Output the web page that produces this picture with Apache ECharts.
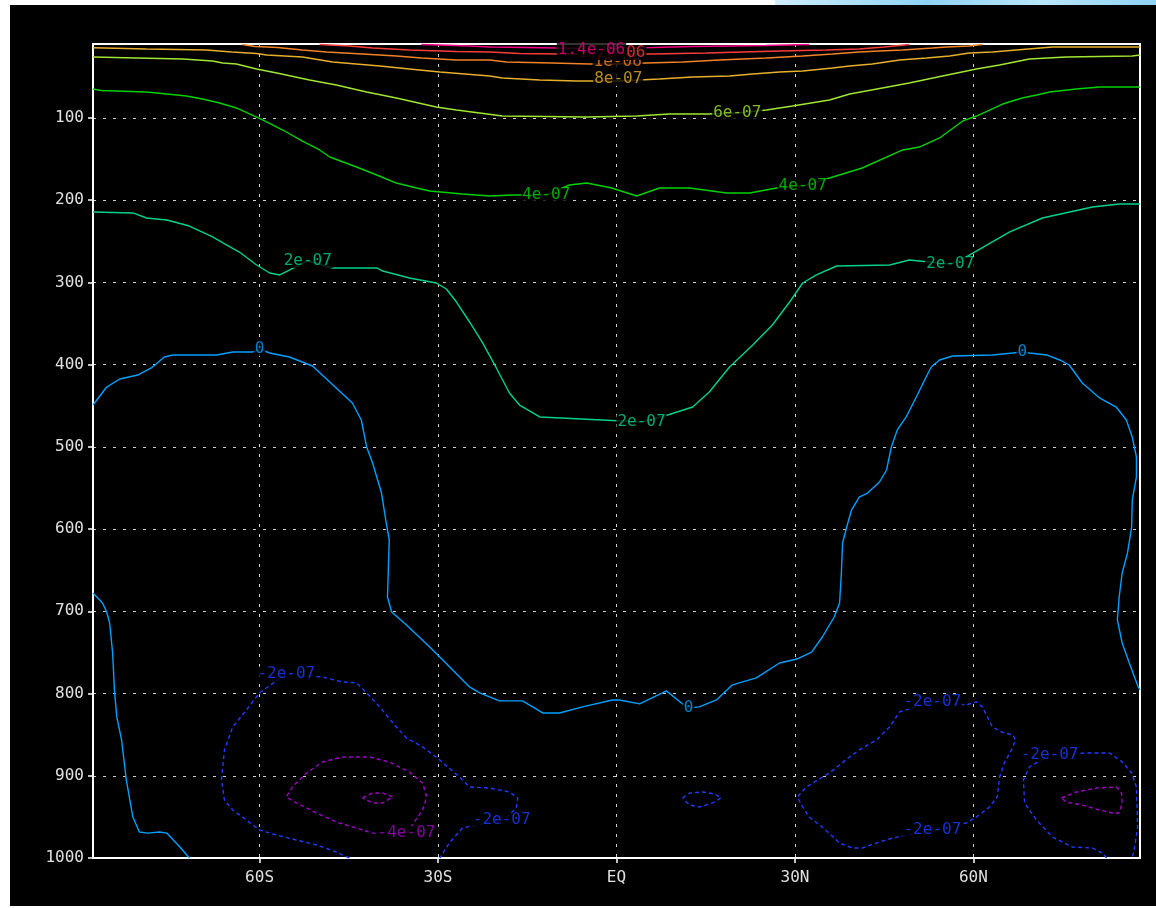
<!DOCTYPE html>
<html><head><meta charset="utf-8">
<script src="https://cdn.jsdelivr.net/npm/echarts@6/dist/echarts.min.js"></script>
<style>html,body{margin:0;padding:0;background:#fff;width:1156px;height:908px;overflow:hidden}
#c{position:absolute;left:10px;top:5px;width:1146px;height:901px;background:#000}
#deco{position:absolute;left:775px;top:0;width:381px;height:5px;background:linear-gradient(90deg,#cfeefc,#8fd3f5 40%,#b9e6fb 70%,#8fd3f5)}</style>
</head><body><div id="deco"></div><div id="c"></div><script>
// axis ticks
const latTicks = [-60, -30, 0, 30, 60];
const latTickLabels = ['60S', '30S', 'EQ', '30N', '60N'];
const presTicks = [100, 200, 300, 400, 500, 600, 700, 800, 900, 1000];

// contour lines: [latitude, pressure hPa]
const c14 = [[-32.8,10.6],[-29.7,11.2],[-24.7,12.4],[-21.3,13.6],[-15.1,14.2],[-10.1,14.9],[-3.4,15.5],[6.1,14.2],[12.8,13.0],[25.2,11.8],[32.4,10.6]];
const c12 = [[-49.9,10.6],[-44.9,12.4],[-41,14.9],[-34.8,17.3],[-26.9,19.1],[-21.3,19.7],[-16.3,21.5],[-10.1,22.2],[-0.8,22.2],[6.1,22.2],[15.1,20.9],[27.4,18.5],[35.3,17.3],[40.8,16.1],[45,13.6],[49.2,10.6]];
const c10 = [[-62.9,10.6],[-60.8,13],[-57,14.2],[-52.8,17.3],[-48.7,19.7],[-42.7,22.2],[-37,24.6],[-32.8,27],[-26.9,29.5],[-21.3,29.5],[-18.5,31.9],[-10.8,33.1],[-4.5,34.3],[0.2,34.3],[5,33.1],[11.1,31.9],[17.3,29.5],[25.2,27],[31.3,24.6],[36.3,22.2],[40.8,19.7],[44.2,18.5],[48.1,17.3],[53.1,14.9],[55.5,13.6],[59.3,12.4],[61.5,10.6]];
const c08 = [[-88,14.5],[-79,16.1],[-68.9,17.3],[-64.7,19.7],[-60.5,21.5],[-58.8,23.4],[-52.8,25.8],[-47.7,31.9],[-39.8,36.8],[-34.8,40.4],[-29.7,44.1],[-21.3,48.9],[-19.2,51.4],[-12.9,53.8],[-6.7,55],[0.3,55],[7.2,52.6],[12.8,50.1],[19,48.9],[22.9,46.5],[27.4,44.1],[31.3,42.8],[36.3,39.2],[39.2,36.8],[43,34.3],[47.6,29.5],[52.1,27],[56,24.6],[59.3,20.9],[63.2,19.7],[67.2,17.3],[73.3,13.6],[88,13.6]];
const c06 = [[-88,25.8],[-80.7,27.0],[-72.9,28.2],[-67.9,30.7],[-66.2,33.1],[-63.9,34.3],[-60.5,40.4],[-57.1,45.3],[-51.6,53.8],[-47.1,59.9],[-42,68.4],[-37,75.7],[-30.3,86.6],[-26.9,90.3],[-23,93.9],[-19.2,97.6],[-5,98.8],[3.4,97.6],[8.9,95.1],[15.6,95.1],[20.3,93.9],[25.2,90.3],[29.6,85.4],[35.8,78.1],[39.2,70.8],[44.7,63.5],[49.2,57.4],[54.8,48.9],[60.5,40.4],[64.4,35.5],[69.4,28.2],[75.6,25.8],[86.7,24.6],[88,23.4]];
const c04 = [[-88,64.7],[-86.7,66.6],[-79,68.4],[-75.6,70.8],[-72.3,73.2],[-69.6,76.9],[-66.7,81.8],[-63.9,87.8],[-61.7,95.1],[-59.5,102.4],[-56.1,114.6],[-52.8,128],[-49.9,138.9],[-48.2,147.4],[-43.7,159.6],[-40.3,169.3],[-37,179.1],[-33.6,185.1],[-31.4,188.8],[-25.9,192.4],[-21.3,194.9],[-17.5,193.6],[-11.8,193.6],[-7.9,181.5],[-5,179.1],[-0.8,185.1],[3.4,194.9],[7.2,185.1],[12.3,185.1],[18.5,191.2],[22.4,191.2],[26.9,185.1],[31.3,182.7],[35.8,173],[41.3,160.8],[48.1,138.9],[50.9,135.3],[54.3,124.3],[58.2,103.6],[60.5,97.6],[62.7,90.3],[64.9,83],[68.2,75.7],[70.6,72],[72.8,68.4],[77.3,64.7],[81.2,62.3],[88,62.3]];
const c02 = [[-88,214.3],[-81.3,215.5],[-79,221.6],[-75.6,224.1],[-71.8,231.4],[-67.9,244.7],[-65.5,254.5],[-63.4,263],[-60.5,278.8],[-58.3,288.5],[-56.6,290.9],[-51.9,273.9],[-47.7,282.4],[-40.3,282.4],[-39.3,286.1],[-34.8,294.6],[-30.3,300.7],[-28.6,308],[-26.9,323.8],[-24.7,348.1],[-22.5,373.6],[-20.2,404],[-18,434.5],[-16.3,449.1],[-12.9,463.6],[-2.4,467.3],[4.2,469.7],[8.6,461.2],[12.8,451.5],[15.6,433.2],[19,402.8],[22.9,376.1],[26.2,351.8],[29.1,323.8],[31.3,300.7],[33.6,290.9],[37,280],[45.9,278.8],[49.2,272.7],[56.1,277.6],[58.8,269],[66.1,238.6],[71.6,221.6],[80,208.2],[84.5,204.6],[88,204.6]];
const c00a = [[-88,449],[-85.7,427.2],[-83.5,417.4],[-80.5,412.6],[-78.2,404],[-76,390.7],[-74.6,388.2],[-67.2,388.2],[-64.5,384.6],[-61.2,384.6],[-60,381],[-58.3,385.8],[-55,390.7],[-51.1,401.6],[-44.4,446.6],[-42.9,467.3],[-42,500.1],[-41,519.6],[-39.5,556.1],[-38.7,592.6],[-38.2,613.2],[-38.5,682.6],[-37.8,700.8],[-35.3,716.6],[-31.4,743.4],[-29.7,755.5],[-24.7,792],[-23,799.1],[-19.7,808.9],[-15.8,808.9],[-12.4,823.6],[-9.6,823.6],[-5.7,816.2],[-0.7,807.8],[0.5,807.8],[3.9,812.6],[8.4,796.7],[10.9,811.4],[12.1,817.5],[13.9,816.2],[16.8,807.8],[19.5,789.4],[23.5,781],[27.4,762.8],[30.3,758],[32.8,749.5],[34.6,731.2],[36.6,706.9],[37.5,689.9],[37.8,653.4],[38,616.9],[38.7,597.4],[39.5,576.8],[40.8,561],[42.2,556.1],[44.2,542.7],[45.4,528.1],[46.2,500.1],[47.2,479.4],[48.7,463.6],[50.4,439.3],[51.8,418.6],[52.9,402.8],[54.3,394.3],[56.5,389.5],[63.2,388.2],[66.6,385.8],[68.2,384.6],[69.4,385.8],[72.3,388.2],[74.5,394.3],[76.1,400.4],[78.3,422.3],[81.2,440.5],[84,451.5],[85.7,467.3],[86.7,488],[87.4,512.3],[87.4,536.6],[86.7,564.6],[86.6,597.4],[85.9,629],[85,653.4],[84.5,682.6],[84.2,710.5],[85,738.5],[86.2,762.8],[87.7,791.9],[88,795.5]];
const c00b = [[-88,677.7],[-86.4,689.9],[-85.7,700.8],[-85.2,714.2],[-84.7,750.7],[-84.4,795.5],[-84,828.4],[-83.2,856.4],[-82.4,905.1],[-81.3,950.2],[-80.2,968.4],[-78.8,969.7],[-76.8,968.4],[-75.6,969.7],[-73.4,986.6],[-71.8,1000]];
const cm2a = [[-44.9,1000],[-47.1,992.7],[-50.4,984.2],[-53.8,978.1],[-57.1,972.1],[-60,966],[-62.2,953.8],[-64.5,941.7],[-65.9,929.5],[-66.4,905.1],[-65.9,868.6],[-64.5,840.6],[-62.2,819.9],[-60,799.1],[-55.5,776],[-49.4,779.9],[-46.1,785.8],[-43.7,787],[-42,799.1],[-39.8,816.2],[-37.6,835.8],[-35.3,854],[-32.6,864.9],[-29.7,880.8],[-26.4,901.5],[-24.7,913.7],[-21.3,914.9],[-18,919.7],[-16.6,927],[-16.8,938],[-18,947.7],[-19.3,953.8],[-25.9,963.6],[-28.1,981.8],[-29.7,1000]];
const cm2b = [[11.1,927],[12.3,921],[14.5,919.7],[16.5,922.2],[17.6,927],[16.1,933.1],[14,938],[12.3,935.6],[11.1,927]];
const cm2c = [[53.1,810.1],[58.8,813.8],[60.5,810.1],[61.5,816.2],[63.2,840.6],[64.7,846.7],[66.6,850.3],[67.1,856.4],[66.4,868.6],[65.2,884.4],[64.4,901.5],[64,925.8],[62.7,938],[60.5,950.2],[58.8,957.5],[53.1,966],[46.4,975.8],[44.2,980.6],[41.3,987.9],[39.7,987.9],[37.5,981.8],[34.6,962.4],[32.4,950.2],[31.1,935.6],[30.4,925.8],[31.9,913.7],[35.8,896.6],[39.2,877.1],[40.8,868.6],[43.7,856.4],[45.9,840.6],[47.6,822.3],[53.1,810.1]];
const cm2d = [[82.4,1000],[81.7,993.9],[80,987.9],[76.6,986.6],[73.3,974.5],[70.6,953.8],[68.6,933.1],[68.4,905.1],[69.4,889.3],[72.8,874.7],[79,872.3],[82.9,872.3],[85,883.2],[86.6,896.6],[87.4,913.7],[87.6,962.4],[87.1,986.6],[86.7,1000]];
const cm4a = [[-35.3,969.7],[-34,956.3],[-32.6,941.7],[-31.9,925.8],[-32.6,908.8],[-34.8,895.4],[-38.2,883.2],[-41.5,877.1],[-46.1,877.1],[-49.4,883.2],[-52.1,896.6],[-54.5,913.7],[-55.5,925.8],[-53.8,933.1],[-50.4,945.3],[-47.1,956.3],[-43.7,963.6],[-41,969.7],[-35.3,969.7]];
const cm4b = [[-42.7,927],[-41,921],[-39.3,921],[-37.6,925.8],[-39.3,933.1],[-41,933.1],[-42.7,927]];
const cm4c = [[74.8,927],[77.3,919.7],[80.7,914.9],[84,913.7],[84.9,921],[85,933.1],[84.5,945.3],[83.4,945.3],[81.2,941.7],[78.3,935.6],[75.6,932],[74.8,927]];

// contour labels: [latitude, pressure, text, level]
const contourLabels = [
  [0.2, 32, '1e-06', '1e-06'],
  [-0.8, 21, '1.2e-06', '1.2e-06'],
  [-4.2, 17.3, '1.4e-06', '1.4e-06'],
  [0.3, 52.6, '8e-07', '8e-07'],
  [20.3, 93.9, '6e-07', '6e-07'],
  [-11.8, 193.6, '4e-07', '4e-07'],
  [31.3, 182.7, '4e-07', '4e-07'],
  [-51.9, 273.9, '2e-07', '2e-07'],
  [4.2, 469.7, '2e-07', '2e-07'],
  [56.1, 277.6, '2e-07', '2e-07'],
  [-60, 381, '0', '0'],
  [12.1, 817.5, '0', '0'],
  [68.2, 384.6, '0', '0'],
  [-55.5, 776, '-2e-07', '-2e-07'],
  [-19.3, 953.8, '-2e-07', '-2e-07'],
  [53.1, 810.1, '-2e-07', '-2e-07'],
  [53.1, 966, '-2e-07', '-2e-07'],
  [72.8, 874.7, '-2e-07', '-2e-07'],
  [-35.3, 969.7, '-4e-07', '-4e-07']
];

const levelColors = {
  '1.4e-06': 'rgb(240,0,130)', '1.2e-06': 'rgb(250,60,60)', '1e-06': 'rgb(240,130,40)',
  '8e-07': 'rgb(230,175,45)', '6e-07': 'rgb(160,230,50)', '4e-07': 'rgb(0,210,0)',
  '2e-07': 'rgb(0,210,140)', '0': 'rgb(0,160,255)', '-2e-07': 'rgb(30,60,255)', '-4e-07': 'rgb(160,0,200)'
};

const contours = [
  [c14, '1.4e-06'], [c12, '1.2e-06'], [c10, '1e-06'], [c08, '8e-07'], [c06, '6e-07'],
  [c04, '4e-07'], [c02, '2e-07'], [c00a, '0'], [c00b, '0'],
  [cm2a, '-2e-07'], [cm2b, '-2e-07'], [cm2c, '-2e-07'], [cm2d, '-2e-07'],
  [cm4a, '-4e-07'], [cm4b, '-4e-07'], [cm4c, '-4e-07']
];

const FONT = 'DejaVu Sans Mono';
const series = contours.map(([d, lev]) => ({
  type: 'line', data: d, symbol: 'none', showSymbol: false, silent: true, clip: true, z: 2,
  lineStyle: { color: levelColors[lev], width: 1.4, type: lev.startsWith('-') ? [4, 3] : 'solid' }
}));
series.push({
  type: 'scatter', symbolSize: 0, z: 5, silent: true,
  data: contourLabels.map(l => ({ value: [l[0], l[1]], name: l[2], level: l[3],
    label: { color: levelColors[l[3]] } })),
  label: { show: true, position: 'inside', formatter: p => p.name, fontFamily: FONT, fontSize: 16,
    backgroundColor: '#000', padding: [0, 1], lineHeight: 14 }
});

const chart = echarts.init(document.getElementById('c'), null, { renderer: 'canvas' });
chart.setOption({
  animation: false,
  backgroundColor: '#000',
  grid: { left: 83, top: 39, right: 16, bottom: 48, show: true, borderColor: '#fff', borderWidth: 2, backgroundColor: '#000' },
  xAxis: {
    type: 'value', min: -88, max: 88,
    axisLine: { show: true, onZero: false, lineStyle: { color: '#fff', width: 2 } },
    axisTick: { show: true, customValues: latTicks, length: 5, lineStyle: { color: '#fff', width: 1.5 } },
    axisLabel: { customValues: latTicks, margin: 12, color: '#e0e0e0', fontFamily: FONT, fontSize: 16,
      formatter: v => latTickLabels[latTicks.indexOf(v)] },
    splitLine: { show: true, lineStyle: { color: '#cfcfcf', width: 1, type: [3, 7] } }
  },
  yAxis: {
    type: 'value', inverse: true, min: 10, max: 1000,
    axisLine: { show: true, onZero: false, lineStyle: { color: '#fff', width: 2 } },
    axisTick: { show: true, customValues: presTicks, length: 5, lineStyle: { color: '#fff', width: 1.5 } },
    axisLabel: { customValues: presTicks, margin: 9, color: '#e0e0e0', fontFamily: FONT, fontSize: 16,
      formatter: v => String(v) },
    splitLine: { show: true, lineStyle: { color: '#cfcfcf', width: 1, type: [3, 7] } }
  },
  series
});
</script></body></html>
